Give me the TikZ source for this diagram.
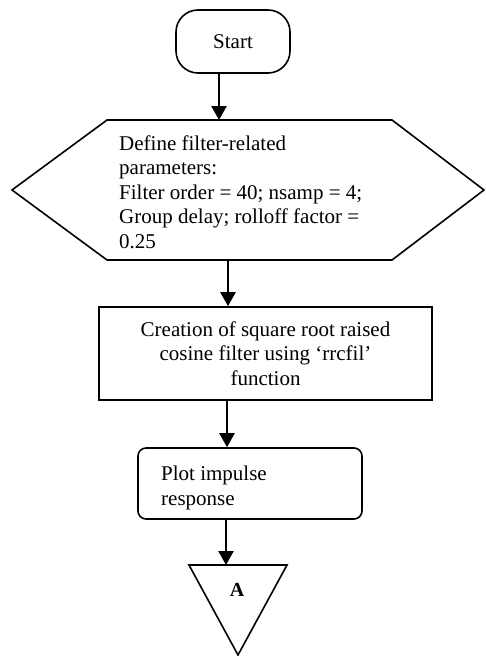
\documentclass[tikz,border=0pt]{standalone}
\usepackage{fontspec}
\setmainfont{Liberation Serif}
\usetikzlibrary{arrows.meta,calc}
\begin{document}
\begin{tikzpicture}[x=1pt,y=-1pt,
  shapeline/.style={draw=black,line width=1.6pt},
  txt/.style={font=\fontsize{21}{24.5}\selectfont,inner sep=0pt},
  conn/.style={draw=black,line width=2.4pt,-{Triangle[length=14pt,width=15pt]}},
  invis/.style={inner sep=0pt,outer sep=0pt}]
\useasboundingbox (0,0) rectangle (485,656);
% Start terminator
\node[shapeline,rounded corners=22pt,minimum width=114pt,minimum height=63pt,
      inner sep=0pt,txt] (start) at (233,41.5) {Start};
% Hexagon (preparation)
\node[invis,minimum width=285pt,minimum height=140pt] (hex) at (249.5,190) {};
\draw[shapeline,line join=miter] (hex.north west) -- (hex.north east)
   -- ([xshift=92pt]hex.east) -- (hex.south east) -- (hex.south west)
   -- ([xshift=-95pt]hex.west) -- cycle;
\node[txt,anchor=base west,align=left] (hextext) at (119,248)
  {Define filter-related\\parameters:\\Filter order = 40; nsamp = 4;\\Group delay; rolloff factor =\\0.25};
% Process rectangle
\node[shapeline,minimum width=333pt,minimum height=93pt,inner sep=0pt,txt,align=center]
  (crea) at (265.5,353.5)
  {Creation of square root raised\\cosine filter using ‘rrcfil’\\function};
% Plot box
\node[shapeline,rounded corners=8pt,minimum width=224pt,minimum height=71pt,inner sep=0pt]
  (plot) at (250,483.5) {};
\node[txt,anchor=base west,align=left] (plottext) at (161,505)
  {Plot impulse\\response};
% Off-page connector
\node[invis,minimum width=98pt,minimum height=90pt] (tri) at (238,610) {};
\draw[shapeline,line join=miter] (tri.north west) -- (tri.north east) -- (tri.south) -- cycle;
\node[inner sep=0pt,anchor=base,font=\fontsize{20}{24}\selectfont\bfseries] (A) at (237,596) {A};
% Connectors
\draw[conn] ([xshift=-14pt]start.south) -- ([xshift=-14pt]start.south |- hex.north);
\draw[conn] ([xshift=-21.5pt]hex.south) -- ([xshift=-21.5pt]hex.south |- crea.north);
\draw[conn] ([xshift=-38.5pt]crea.south) -- ([xshift=-38.5pt]crea.south |- plot.north);
\draw[conn] ([xshift=-12pt]tri.north |- plot.south) -- ([xshift=-12pt]tri.north);
\end{tikzpicture}
\end{document}
